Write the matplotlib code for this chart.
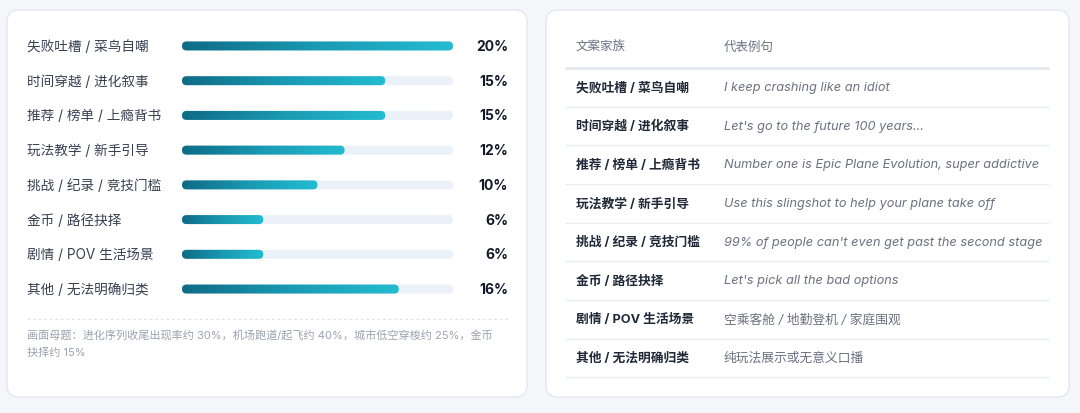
import numpy as np
import matplotlib
matplotlib.use("Agg")
import matplotlib.pyplot as plt
from matplotlib.patches import FancyBboxPatch
from matplotlib.transforms import IdentityTransform, blended_transform_factory
from matplotlib.colors import LinearSegmentedColormap

plt.rcParams['font.family'] = ['Inter', 'Noto Sans CJK SC', 'DejaVu Sans']

categories = ["失败吐槽 / 菜鸟自嘲", "时间穿越 / 进化叙事", "推荐 / 榜单 / 上瘾背书", "玩法教学 / 新手引导",
              "挑战 / 纪录 / 竞技门槛", "金币 / 路径抉择", "剧情 / POV 生活场景", "其他 / 无法明确归类"]
values = [20, 15, 15, 12, 10, 6, 6, 16]
examples = ["I keep crashing like an idiot", "Let's go to the future 100 years...",
            "Number one is Epic Plane Evolution, super addictive", "Use this slingshot to help your plane take off",
            "99% of people can't even get past the second stage", "Let's pick all the bad options",
            "空乘客舱 / 地勤登机 / 家庭围观", "纯玩法展示或无意义口播"]
col_headers = ["文案家族", "代表例句"]
footnote = "画面母题：进化序列收尾出现率约 30%，机场跑道/起飞约 40%，城市低空穿梭约 25%，金币\n抉择约 15%"

W, H = 1080, 414
fig = plt.figure(figsize=(W/100, H/100), dpi=100, facecolor='#f4f6fa')
ax0 = fig.add_axes([0, 0, 1, 1])
ax0.set_xlim(0, W); ax0.set_ylim(H, 0); ax0.axis('off')

for x0, x1 in [(7, 527), (546, 1069)]:
    ax0.add_patch(FancyBboxPatch((x0, 11), x1-x0, 387, boxstyle="round,pad=0,rounding_size=12",
                                 fc='white', ec='#e3e8ef', lw=1))

bx0, bx1 = 182, 453
top, bot = 29.6, 307.4
axb = fig.add_axes([bx0/W, 1-bot/H, (bx1-bx0)/W, (bot-top)/H])
axb.set_xlim(0, max(values)); axb.set_ylim(len(values)-0.5, -0.5); axb.axis('off')
axb.patch.set_alpha(0)

cmap = LinearSegmentedColormap.from_list('g', ['#0f6b86', '#1a9ab3', '#23bcd1'])
grad = np.linspace(0, 1, 256).reshape(1, -1)
bh = 4.5
for i, v in enumerate(values):
    cx0, cy = axb.transData.transform((0, i))
    cxt, _ = axb.transData.transform((max(values), i))
    cxv, _ = axb.transData.transform((v, i))
    track = FancyBboxPatch((cx0, cy-bh), cxt-cx0, 2*bh, boxstyle=f"round,pad=0,rounding_size={bh}",
                           transform=IdentityTransform(), fc='#eaf1f8', ec='none', zorder=1, clip_on=False)
    axb.add_artist(track)
    clip = FancyBboxPatch((cx0, cy-bh), cxv-cx0, 2*bh, boxstyle=f"round,pad=0,rounding_size={bh}",
                          transform=IdentityTransform(), fc='none', ec='none')
    im = axb.imshow(grad, cmap=cmap, aspect='auto', extent=[0, v, i+0.3, i-0.3], zorder=3)
    im.set_clip_path(clip)

axb.set_xlim(0, max(values)); axb.set_ylim(len(values)-0.5, -0.5)
bt = blended_transform_factory(ax0.transData, axb.transData)
for i, (c, v) in enumerate(zip(categories, values)):
    ax0.text(27, i, c, transform=bt, va='center', ha='left', fontsize=9.8, color='#374151')
    ax0.text(508, i, f"{v}%", transform=bt, va='center', ha='right', fontsize=10,
             color='#111827', fontweight='bold')

ax0.plot([27, 509], [320, 320], color='#dfe4ea', lw=1, ls=(0, (2, 2)))
ax0.text(27, 331, footnote, va='top', ha='left', fontsize=8, color='#9aa3ae', linespacing=1.7)

ax0.text(576, 48, col_headers[0], va='center', fontsize=9, color='#6b7280')
ax0.text(724, 48, col_headers[1], va='center', fontsize=9, color='#6b7280')
ax0.plot([566, 1048], [69, 69], color='#e3e9f1', lw=2)
row0, step = 88, 38.7
for i, (c, e) in enumerate(zip(categories, examples)):
    y = row0 + i*step
    ax0.text(576, y, c, va='center', fontsize=9.2, color='#1f2937', fontweight='bold')
    ax0.text(724, y, e, va='center', fontsize=9.2, color='#6b7280', style='italic')
    ax0.plot([566, 1048], [y+19.5, y+19.5], color='#e8ecf1', lw=1)

fig.savefig('out.png', dpi=100, facecolor=fig.get_facecolor())
